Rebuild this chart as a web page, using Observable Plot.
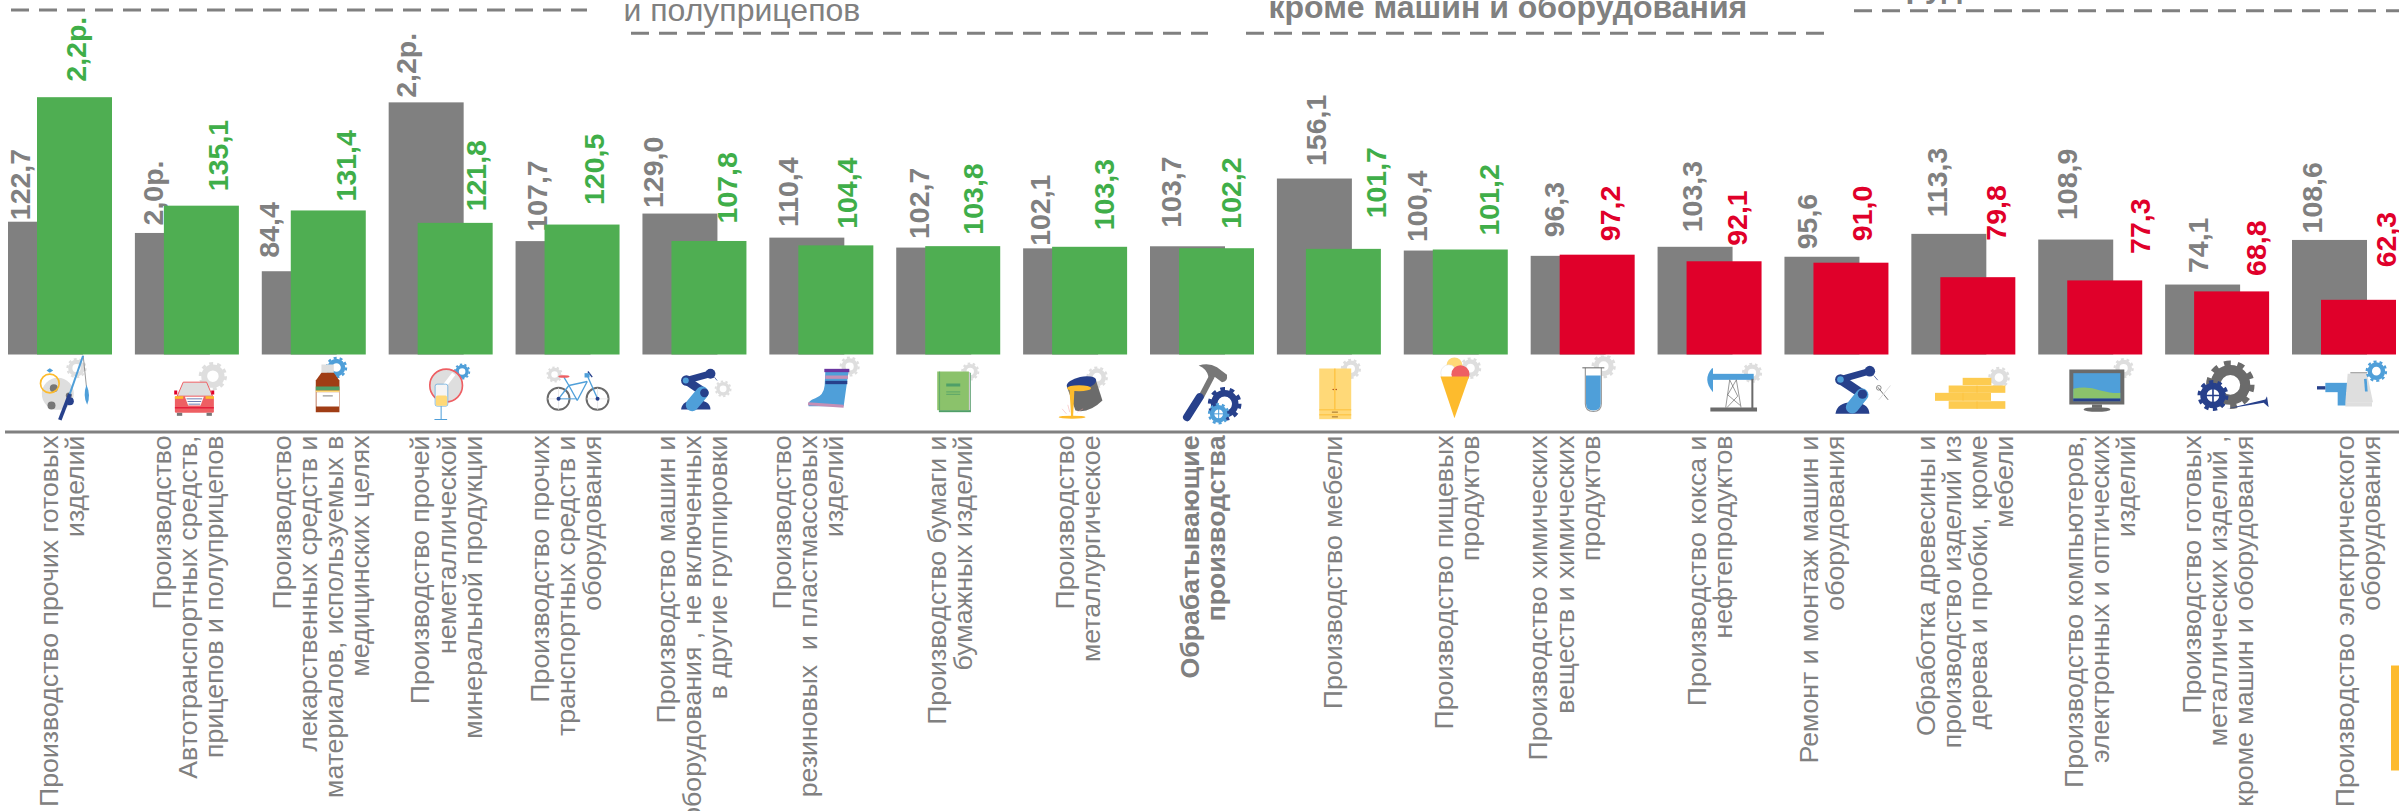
<!DOCTYPE html>
<html><head><meta charset="utf-8">
<style>html,body{margin:0;padding:0;background:#fff;overflow:hidden}svg{display:block}</style>
<script src="https://cdn.jsdelivr.net/npm/d3@7"></script>
<script src="https://cdn.jsdelivr.net/npm/@observablehq/plot@0.6"></script>
</head><body><div id="c"></div>
<script>
const categories = ["Производство прочих готовых\nизделий","Производство\nАвтотранспортных средств,\nприцепов и полуприцепов","Производство\nлекарственных средств и\nматериалов, используемых в\nмедицинских целях","Производство прочей\nнеметаллической\nминеральной продукции","Производство прочих\nтранспортных средств и\nоборудования","Производство машин и\nоборудования , не включенных\nв другие группировки","Производство\nрезиновых  и пластмассовых\nизделий","Производство бумаги и\nбумажных изделий","Производство\nметаллургическое","Обрабатывающие\nпроизводства","Производство мебели","Производство пищевых\nпродуктов","Производство химических\nвеществ и химических\nпродуктов","Производство кокса и\nнефтепродуктов","Ремонт и монтаж машин и\nоборудования","Обработка древесины и\nпроизводство изделий из\nдерева и пробки, кроме\nмебели","Производство компьютеров,\nэлектронных и оптических\nизделий","Производство готовых\nметаллических изделий ,\nкроме машин и оборудования","Производство электрического\nоборудования"];
const prevValues = [122.7,114,84.4,215,107.7,129,110.4,102.7,102.1,103.7,156.1,100.4,96.3,103.3,95.6,113.3,108.9,74.1,108.6];
const currValues = [219,135.1,131.4,121.8,120.5,107.8,104.4,103.8,103.3,102.2,101.7,101.2,97.2,92.1,91,79.8,77.3,68.8,62.3];
const prevLabels = ["122,7","2,0р.","84,4","2,2р.","107,7","129,0","110,4","102,7","102,1","103,7","156,1","100,4","96,3","103,3","95,6","113,3","108,9","74,1","108,6"];
const currLabels = ["2,2р.","135,1","131,4","121,8","120,5","107,8","104,4","103,8","103,3","102,2","101,7","101,2","97,2","92,1","91,0","79,8","77,3","68,8","62,3"];
const prevDx = [-40,-34,-44,-34,-30,-41,-33,-29,-35,-31,-13,-38,-28,-17,-29,-26,-23,-19,-32];
const prevDy = [-2,-8,-14,-5,-10,-6,-11,-9,-3,-19,-13,-9,-19,-15,-8,-17,-20,-12,-7];
const currDx = [16.5,31,33,36,27,33,26,25,29,29,47,34,28,28,26,33.5,50,39,42];
const currDy = [-16,-15,-9.5,-12,-20,-18,-17,-12,-17,-20,-31,-14.5,-14,-16,-22,-37,-27,-16,-33];
const catDx = [2,1,7,6,-1,-2,-13,2,3,1,4,1,-18,1,-14,2,10,1,14];

const GREY="#808080", GREEN="#4FAE52", GREENT="#3FAE49", RED="#E0002A";
const LG="#dedede",BL="#4F9FD9",DB="#27408B",YE="#FDBB2D",LY="#FFD978",PK="#EE5F63",DG="#6B6B6B",LGN="#8BC26B",MG="#4F9F68";
const gear=(x,y,R,c,hole="none")=>`<circle cx="${x}" cy="${y}" r="${R*.62}" fill="${hole}" stroke="${c}" stroke-width="${R*.42}"/><circle cx="${x}" cy="${y}" r="${R*.9}" fill="none" stroke="${c}" stroke-width="${R*.22}" pathLength="20" stroke-dasharray="1 1"/>`;
const L=(a,b,c,d,col,w,cap="butt")=>`<line x1="${a}" y1="${b}" x2="${c}" y2="${d}" stroke="${col}" stroke-width="${w}" stroke-linecap="${cap}"/>`;
const C=(x,y,r,f,extra="")=>`<circle cx="${x}" cy="${y}" r="${r}" fill="${f}" ${extra}/>`;
const R=(x,y,w,h,f,extra="")=>`<rect x="${x}" y="${y}" width="${w}" height="${h}" fill="${f}" ${extra}/>`;
const P=(d,f,extra="")=>`<path d="${d}" fill="${f}" ${extra}/>`;
const iconLeft=[-10.5,370,751,1131.6,72,453,834,1215,155,536,917,-143,238,618.6,999,-60,320.7,701.4,1082];
const iconBodies=[
 gear(228,38,30,LG)+C(172,115,48,LG)+C(160,98,12,"#777")+C(153,150,12,"#777")+C(205,120,9,"#777")+C(148,84,28,"none",`stroke="${YE}" stroke-width="5"`)+P("M138 45 L148 38 L158 45 L148 52Z",BL)+L(248,0,258,95,"#666",2)+P("M258 88 Q272 120 260 148 Q246 120 258 88Z",BL)+L(178,193,208,115,DB,11)+L(208,115,248,0,BL,6)+C(208,137,12,DB),
 gear(637,62,42,LG)+P("M530 122 L548 80 H618 L636 122Z",LG,`stroke="${PK}" stroke-width="3"`)+R(523,122,117,50,PK,'rx="4"')+P("M553 124 H610 L600 150 H563Z","#fff")+L(558,130,605,130,DB,2)+L(561,138,602,138,DB,2)+L(564,146,599,146,DB,2)+R(523,122,25,8,YE)+R(615,122,25,8,YE)+L(523,157,640,157,RED,3)+R(529,172,16,9,"#777")+R(618,172,16,9,"#777")+R(521,105,9,12,RED)+R(632,105,9,12,RED),
 gear(1008,36,32,BL)+R(963,27,37,25,LG)+P("M963 52 H1000 L1017 75 V170 H946 V75Z","#A03D15")+R(946,93,71,12,MG)+R(946,105,71,5,LY)+R(948,110,68,43,"#fff")+R(967,120,30,2.5,"#666"),
 gear(1385,48,24,BL)+C(1337,90,49,LG,`stroke="${PK}" stroke-width="5"`)+L(1310,120,1360,55,"#fff",12)+R(1304,86,38,66,"#f5f5f5",`rx="6" stroke="${BL}" stroke-width="2"`)+R(1306,120,34,31,LY,'rx="5"')+L(1322,152,1322,192,BL,3)+L(1302,192,1340,192,BL,3),
 gear(222,57,24,LG)+C(234,130,33,"none",'stroke="#6B6B6B" stroke-width="6"')+C(351,130,33,"none",'stroke="#6B6B6B" stroke-width="6"')+L(201,130,267,130,LG,2)+L(234,97,234,163,LG,2)+L(318,130,384,130,LG,2)+L(351,97,351,163,LG,2)+L(234,130,265,90,BL,4)+L(265,90,320,78,BL,4)+L(265,90,290,135,BL,4)+L(290,135,320,78,BL,4)+L(234,130,290,130,BL,3)+L(320,60,351,130,BL,4)+L(250,65,265,90,BL,4)+`<ellipse cx="250" cy="63" rx="17" ry="4" fill="${PK}"/>`+L(322,48,335,65,DB,4)+R(312,53,15,13,BL)+C(234,130,6,DB)+C(351,130,6,DB),
 gear(728,100,25,LG)+P("M602 162 Q605 135 645 133 Q690 135 690 162Z",DB)+L(617,75,690,55,DB,20)+C(690,55,15,DB)+L(702,65,710,75,DB,2)+C(618,75,16,DB)+L(618,75,670,110,DB,26)+L(665,112,635,148,BL,38,"round")+C(672,112,13,DB)+C(616,75,9,BL),
 gear(1108,33,30,LG)+P("M1035 45 H1105 L1090 152 H985 Q980 135 1005 128 Q1030 120 1033 90Z",BL)+R(1032,40,75,10,"#6A35A0")+R(1035,60,68,10,"#C58FB5")+R(1035,76,66,10,DB)+L(983,145,1090,152,"#C58FB5",9),
 gear(1470,48,27,LG)+R(1376,52,96,118,MG)+R(1376,50,94,114,"#ccc")+R(1371,48,95,116,LGN)+L(1378,48,1378,164,MG,2)+R(1398,84,42,9,MG)+R(1398,108,42,2.5,MG)+R(1398,115,42,2.5,MG),
 gear(410,65,32,LG)+P("M320 95 L345 165 Q385 175 426 135 L405 70Z",DG)+`<ellipse cx="363" cy="83" rx="45" ry="19" transform="rotate(-12 363 83)" fill="${DB}"/><ellipse cx="356" cy="98" rx="36" ry="9" fill="${YE}"/>`+P("M327 100 L342 100 L338 182 L332 182Z",YE)+`<ellipse cx="335" cy="185" rx="40" ry="4.5" fill="${YE}"/>`+L(305,160,318,175,"#F3A5A5",1.5)+L(322,148,328,170,"#F3A5A5",1.5)+L(350,170,368,160,"#F3A5A5",1.5),
 P("M715 30 Q745 20 770 35 L800 58 Q803 80 785 80 L765 65 L745 65 Q740 40 715 30Z","#777")+L(755,62,722,125,"#777",17)+L(718,125,680,185,DB,24,"round")+gear(793,145,50,DB)+C(793,145,22,"#fff")+gear(775,175,32,BL,"#fff")+L(750,175,800,175,BL,3)+L(775,150,775,200,BL,3),
 gear(1172,40,30,LG)+R(1077,39,96,152,LY)+L(1124,39,1124,162,YE,3)+L(1077,163,1173,163,YE,2.5)+L(1077,178,1173,178,YE,2.5)+C(1119,102,2.5,"#B5541C")+C(1128,102,2.5,"#B5541C")+R(1115,168,18,4,"#B8893A")+R(1115,182,18,4,"#B8893A"),
 gear(90,38,32,LG)+C(42,30,24,LY)+C(25,52,24,"#fff",`stroke="${LG}" stroke-width="1.5"`)+C(60,56,27,PK)+P("M0 63 H86 L42 188Z",YE),
 gear(490,32,36,LG)+P("M435 37 V145 Q435 168 459 168 Q483 168 483 145 V37","#fff",'stroke="#999" stroke-width="3.5"')+P("M437 60 H481 V145 Q481 165 459 165 Q437 165 437 145Z",BL)+L(426,37,492,37,"#666",3),
 gear(935,52,30,LG)+R(815,55,125,18,BL)+P("M815 38 Q785 72 818 110 V38Z",BL)+R(933,70,6,90,DG)+R(810,156,140,12,DG)+L(868,73,856,156,"#666",2)+L(888,73,902,156,"#666",2)+L(868,73,892,122,"#666",2)+L(892,122,860,156,"#666",2)+L(888,73,862,118,"#666",2)+L(862,118,900,150,"#666",2),
 P("M1185 175 Q1190 140 1235 140 Q1285 140 1287 175Z",DB)+L(1200,72,1288,47,DB,20)+C(1288,47,16,DB)+L(1300,60,1312,74,DB,2)+C(1200,72,16,DB)+L(1200,72,1265,115,DB,28)+L(1265,118,1235,155,BL,38,"round")+C(1266,116,14,DB)+C(1200,72,10,BL)+L(1312,95,1343,133,"#777",3)+L(1350,90,1315,133,LG,3)+C(1315,97,7,"none",'stroke="#777" stroke-width="2.5"'),
 gear(236,66,32,LG)+R(127,67,86,22,"#FDCB50")+R(85,90,170,22,"#FDCB50")+R(44,112,168,24,"#FDCB50")+R(85,137,170,23,"#FDCB50")+L(170,90,170,112,YE,1.5)+L(128,112,128,136,YE,1.5)+L(170,137,170,160,YE,1.5),
 gear(610,38,30,LG)+R(447,42,165,105,DG)+R(459,53,141,84,BL)+P("M459 100 Q500 90 540 105 Q580 115 600 112 V130 H459Z",LGN)+R(459,129,141,8,DB)+R(515,147,30,10,DG)+`<ellipse cx="530" cy="162" rx="40" ry="7" fill="${DG}"/>`,
 gear(930,88,72,DG)+C(930,88,26,"#fff")+gear(878,120,46,DB,"#fff")+L(845,120,910,120,DB,5)+L(878,88,878,152,DB,5)+P("M920 160 L1035 132 L1040 122 L1045 155 L1030 142Z",DB),
 R(1215,82,65,28,BL)+R(1252,100,26,50,BL)+R(1190,92,25,10,DB)+P("M1282 55 H1340 L1358 140 H1275Z",LG)+R(1275,140,80,13,LG)+L(1290,52,1340,52,"#666",2.5)+L(1335,70,1338,108,BL,8)+gear(1368,47,32,BL)
];
const iconData = categories.map((c,i)=>({c,src:"data:image/svg+xml,"+encodeURIComponent(`<svg xmlns="http://www.w3.org/2000/svg" viewBox="${iconLeft[i]} 0 381 225">${iconBodies[i]}</svg>`)}));

const prevData = categories.map((c,i)=>({c,v:prevValues[i],t:prevLabels[i],dx:prevDx[i],dy:prevDy[i]}));
const currData = categories.map((c,i)=>({c,v:currValues[i],t:currLabels[i],dx:currDx[i],dy:currDy[i],f:currValues[i]>=100?GREEN:RED,tf:currValues[i]>=100?GREENT:RED}));
const FONT="'Liberation Sans',Arial,sans-serif";
const BASEPX=354.5;
const hrule=(y,x0,x1,o)=>Plot.ruleY([20],{dy:y-BASEPX,insetLeft:x0,insetRight:2399-x1,...o});
const dash={stroke:GREY,strokeWidth:3,strokeDasharray:"18 10"};
const topText=(t,x,y,o)=>Plot.text([t],{text:d=>d,frameAnchor:"top-left",textAnchor:"start",lineAnchor:"bottom",dx:x,dy:y,fill:GREY,fontSize:32,...o});
const chart = Plot.plot({
  width:2399,height:811,margin:0,style:{fontFamily:FONT,background:"#fff"},
  x:{domain:categories,paddingInner:0.409,paddingOuter:0.2045,round:false,range:[-3.45,2407.45],axis:null},
  y:{domain:[20,220],range:[BASEPX,95.9],axis:null},
  marks:[
    Plot.barY(prevData,{x:"c",y1:()=>20,y2:"v",fill:GREY,dx:-14.5}),
    ...prevData.map(d=>Plot.text([d],{x:"c",y:"v",text:"t",rotate:-90,textAnchor:"start",lineAnchor:"middle",fontSize:28.5,fontWeight:"bold",fill:GREY,dx:d.dx,dy:d.dy})),
    Plot.barY(currData,{x:"c",y1:()=>20,y2:"v",fill:"f",dx:14.5}),
    ...currData.map(d=>Plot.text([d],{x:"c",y:"v",text:"t",rotate:-90,textAnchor:"start",lineAnchor:"middle",fontSize:28.5,fontWeight:"bold",fill:d.tf,dx:d.dx,dy:d.dy})),
    Plot.image(iconData,{x:"c",frameAnchor:"top",dy:392.5,width:127,height:75,src:"src"}),
    hrule(431.5,5,2399,{stroke:GREY,strokeWidth:3}),
    ...categories.map((c,i)=>Plot.text([c],{x:d=>d,text:d=>d,frameAnchor:"top",dy:435,dx:catDx[i],rotate:-90,textAnchor:"end",lineAnchor:"middle",fontSize:26.7,lineHeight:0.975,fill:GREY,fontWeight:i===9?"bold":"normal"})),
    hrule(9.5,11,587,dash),
    hrule(32.7,631,1208,dash),
    hrule(32.7,1246,1824,dash),
    hrule(10.3,1854,2399,dash),
    topText("и полуприцепов",623,20,{}),
    topText("кроме машин и оборудования",1268,17,{fontWeight:"bold"}),
    topText("руд",1905,-4,{fontWeight:"bold"}),
    hrule(717.5,2391,2399,{stroke:YE,strokeWidth:105})
  ]
});
document.getElementById("c").append(chart);
</script></body></html>
